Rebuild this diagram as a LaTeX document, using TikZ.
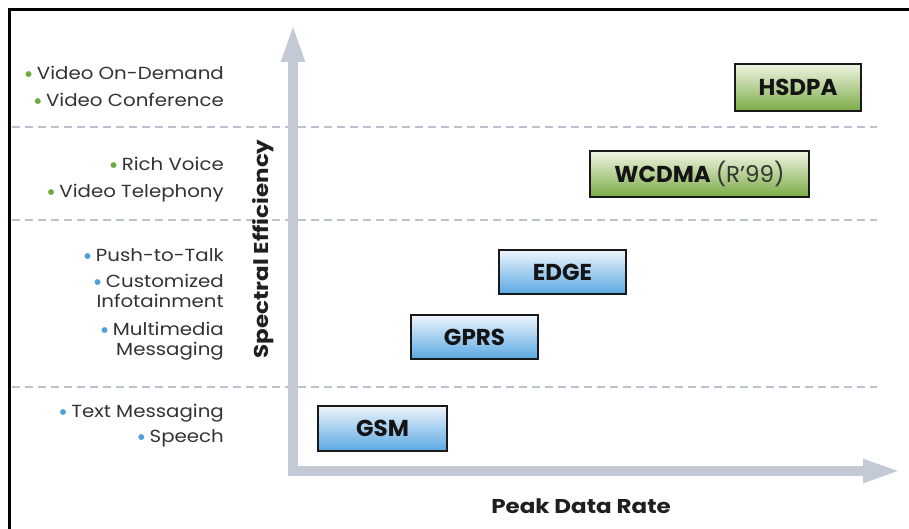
\documentclass[tikz,border=0pt]{standalone}
\usepackage{fontspec}
\setmainfont{Poppins}
\newfontfamily\lblfont[FakeStretch=1.13]{Poppins}
\newfontfamily\axfont[FakeStretch=1.15]{Poppins}
\newfontfamily\dejavu{DejaVu Sans}
\usetikzlibrary{arrows.meta}
\definecolor{axisgray}{HTML}{C3CAD6}
\definecolor{dashgray}{HTML}{BAC2CE}
\definecolor{txtgray}{HTML}{333333}
\definecolor{bgreen}{HTML}{6DAA3C}
\definecolor{bblue}{HTML}{4BA0DC}
\definecolor{gtop}{HTML}{EFF5E3}
\definecolor{gbot}{HTML}{7BAA45}
\definecolor{btop}{HTML}{EEF5FC}
\definecolor{bbot}{HTML}{5AA8E2}
\newcommand\gbul{\textcolor{bgreen}{\dejavu\fontsize{7.5}{7.5}\selectfont\raisebox{3pt}{●}}\hspace{5pt}}
\newcommand\bbul{\textcolor{bblue}{\dejavu\fontsize{7.5}{7.5}\selectfont\raisebox{3pt}{●}}\hspace{5pt}}
\tikzset{
  lbl/.style={anchor=base east, inner sep=0pt, text=txtgray, font=\lblfont\fontsize{17.5}{17.5}\selectfont},
  sep/.style={dashgray, line width=1.5pt, dash pattern=on 8pt off 5pt},
  axis/.style={axisgray, line width=10pt, -{Triangle[length=39pt, width=21pt]}},
  techbox/.style={draw=black!90, line width=1.5pt, inner sep=0pt, font=\fontsize{23}{23}\selectfont\bfseries, text=black!92},
  gbox/.style={techbox, top color=gtop, bottom color=gbot},
  bbox/.style={techbox, top color=btop, bottom color=bbot},
  axlbl/.style={font=\axfont\fontsize{20}{20}\selectfont\bfseries, text=black!88, inner sep=0pt}
}
\begin{document}
\begin{tikzpicture}[x=1pt, y=-1pt]
\useasboundingbox (0,0) rectangle (909,529);
\fill[white] (0,0) rectangle (909,529);
% frame
\draw[line width=3pt] (9,529) -- (9,10) -- (911,10);
% separators
\coordinate (s1a) at (12,127); \coordinate (s1b) at (877,127);
\coordinate (s2a) at (12,220); \coordinate (s2b) at (877,220);
\coordinate (s3a) at (12,387); \coordinate (s3b) at (877,387);
\draw[sep] (s1a) -- (s1b);
\draw[sep] (s2a) -- (s2b);
\draw[sep] (s3a) -- (s3b);
% axes
\coordinate (ytip) at (293,23);
\coordinate (xtip) at (902,471);
\coordinate (ybot) at (293,476);
\coordinate (xleft) at (288,471);
\draw[axis] (ybot) -- (ytip);
\draw[axis] (xleft) -- (xtip);
% axis labels
\node[axlbl, rotate=90] (ylab) at (263,249) {Spectral Efficiency};
\node[axlbl] (xlab) at (581,506) {Peak Data Rate};
% left labels
\node[lbl] (l1) at (224,80) {\gbul Video On-Demand};
\node[lbl] (l2) at (224,107) {\gbul Video Conference};
\node[lbl] (l3) at (224,171) {\gbul Rich Voice};
\node[lbl] (l4) at (224,198) {\gbul Video Telephony};
\node[lbl] (l5) at (224,261) {\bbul Push-to-Talk};
\node[lbl] (l6) at (224,287) {\bbul Customized};
\node[lbl] (l7) at (224,307) {Infotainment};
\node[lbl] (l8) at (224,335) {\bbul Multimedia};
\node[lbl] (l9) at (224,355) {Messaging};
\node[lbl] (l10) at (224,417) {\bbul Text Messaging};
\node[lbl] (l11) at (224,442) {\bbul Speech};
% technology boxes
\node[gbox, minimum width=126pt, minimum height=47pt] (hsdpa) at (798,87.5) {HSDPA};
\node[gbox, minimum width=219pt, minimum height=46pt] (wcdma) at (699.5,174) {WCDMA {\mdseries\color{txtgray}(R’99)}};
\node[bbox, minimum width=127pt, minimum height=44pt] (edge) at (562.5,272) {EDGE};
\node[bbox, minimum width=127pt, minimum height=44pt] (gprs) at (474.5,337) {GPRS};
\node[bbox, minimum width=129pt, minimum height=45pt] (gsm) at (382.5,428.5) {GSM};
\end{tikzpicture}
\end{document}
